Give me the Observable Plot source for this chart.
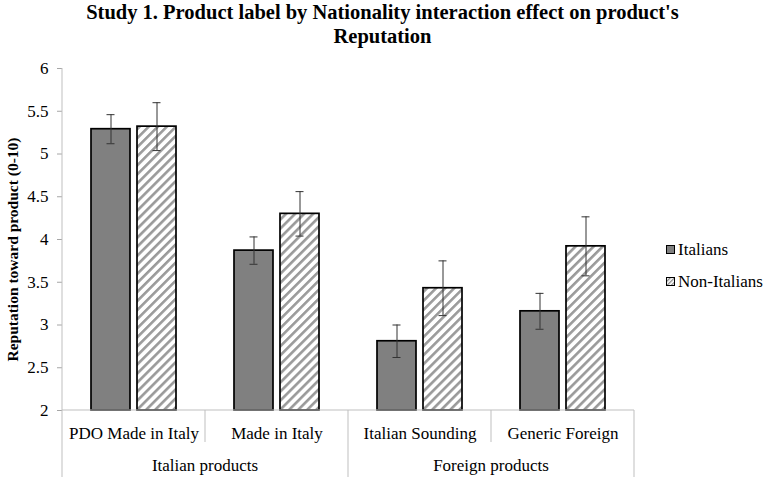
<!DOCTYPE html>
<html><head><meta charset="utf-8">
<script src="https://cdn.jsdelivr.net/npm/d3@7"></script>
<script src="https://cdn.jsdelivr.net/npm/@observablehq/plot@0.6"></script>
<style>
body{margin:0;background:#fff;}
#wrap{position:relative;width:765px;height:477px;font-family:"Liberation Serif","Times New Roman",serif;overflow:hidden;}
#chart{position:absolute;left:0;top:0;}
#title{position:absolute;top:0px;left:0;width:765px;text-align:center;font-weight:bold;font-size:20.5px;line-height:24px;color:#000;}
.leg{position:absolute;left:666px;font-size:17px;line-height:20px;white-space:nowrap;color:#000;}
.leg svg{vertical-align:middle;margin-right:3px;position:relative;top:-2px;}
#chart g[aria-label="y-axis tick"] path{stroke:#a6a6a6;}
#chart g[aria-label="y-axis label"] text{font-weight:bold;font-size:15.5px;}
</style></head>
<body>
<svg width="0" height="0" style="position:absolute"><defs>
<pattern id="hatch" patternUnits="userSpaceOnUse" width="6.4" height="6.4" patternTransform="rotate(45)">
<rect x="0" y="0" width="6.4" height="6.4" fill="#fff"></rect>
<rect x="0" y="0" width="2.6" height="6.4" fill="#9a9a9a"></rect>
</pattern>
<pattern id="hatchS" patternUnits="userSpaceOnUse" width="3" height="3" patternTransform="rotate(45)">
<rect x="0" y="0" width="3" height="3" fill="#fff"></rect>
<rect x="0" y="0" width="1.3" height="3" fill="#888"></rect>
</pattern>
</defs></svg>
<div id="wrap">
<div id="chart"></div>
<div id="title">Study 1. Product label by Nationality interaction effect on product's<br>Reputation</div>
<div class="leg" style="top:240px"><svg width="9" height="9"><rect x="0.5" y="0.5" width="8" height="8" fill="#808080" stroke="#000"></rect></svg>Italians</div>
<div class="leg" style="top:272px"><svg width="9" height="9"><rect x="0.5" y="0.5" width="8" height="8" fill="url(#hatchS)" stroke="#000"></rect></svg>Non-Italians</div>
</div>
<script>
const categories = ["PDO Made in Italy", "Made in Italy", "Italian Sounding", "Generic Foreign"];
const groupOf = ["Italian products", "Italian products", "Foreign products", "Foreign products"];
const nationalities = ["Italians", "Non-Italians"];
const italiansMean = [5.29, 3.87, 2.81, 3.16];
const italiansErr = [0.17, 0.16, 0.19, 0.21];
const nonItaliansMean = [5.32, 4.30, 3.43, 3.92];
const nonItaliansErr = [0.28, 0.26, 0.32, 0.345];
const yTicks = [2, 2.5, 3, 3.5, 4, 4.5, 5, 5.5, 6];

const rows = [];
categories.forEach((c, i) => {
  rows.push({category: c, nationality: "Italians", mean: italiansMean[i], lo: italiansMean[i] - italiansErr[i], hi: italiansMean[i] + italiansErr[i]});
  rows.push({category: c, nationality: "Non-Italians", mean: nonItaliansMean[i], lo: nonItaliansMean[i] - nonItaliansErr[i], hi: nonItaliansMean[i] + nonItaliansErr[i]});
});

const plot = Plot.plot({
  width: 765, height: 477,
  marginTop: 68, marginBottom: 67, marginLeft: 60, marginRight: 130,
  style: {fontFamily: "Liberation Serif, Times New Roman, serif", fontSize: "17px", color: "#000", background: "transparent", overflow: "visible"},
  fx: {domain: categories, padding: 0, axis: "bottom", tickSize: 0, tickPadding: 16, label: null},
  x: {domain: nationalities, axis: null, paddingInner: 0.149, paddingOuter: 0.604},
  y: {domain: [2, 6], ticks: yTicks, tickSize: 5, tickPadding: 9, tickFormat: d => String(d),
      label: "Reputation toward product (0-10)", labelAnchor: "center", labelOffset: 56, labelArrow: "none"},
  color: {domain: nationalities, range: ["#808080", "url(#hatch)"]},
  marks: [
    Plot.barY(rows, {fx: "category", x: "nationality", y1: 2, y2: "mean", fill: "nationality", stroke: "#000", strokeWidth: 1.7}),
    Plot.ruleX(rows, {fx: "category", x: "nationality", y1: "lo", y2: "hi", stroke: "#333", strokeWidth: 1}),
    Plot.tickY(rows, {fx: "category", x: "nationality", y: "hi", insetLeft: 15.5, insetRight: 15.5, stroke: "#333", strokeWidth: 1}),
    Plot.tickY(rows, {fx: "category", x: "nationality", y: "lo", insetLeft: 15.5, insetRight: 15.5, stroke: "#333", strokeWidth: 1})
  ]
});
document.getElementById("chart").appendChild(plot);

// nudge the y-axis title slightly down to sit like the reference
const yl = d3.select(plot).select('g[aria-label="y-axis label"]');
if (!yl.empty()) yl.attr("transform", "translate(0,10) " + (yl.attr("transform") || ""));

// category/group decoration below the axis, positioned from Plot's own scales
const fx = plot.scale("fx"), y = plot.scale("y");
const bw = fx.bandwidth;
const yTop = y.apply(6), yBase = y.apply(2);
const svg = d3.select(plot);
const g = svg.append("g").attr("stroke", "#bfbfbf").attr("stroke-width", 1);
const left0 = fx.apply(categories[0]);
const right0 = fx.apply(categories[categories.length - 1]) + bw;
g.append("line").attr("x1", left0).attr("x2", left0).attr("y1", yTop).attr("y2", 477);
g.append("line").attr("x1", left0).attr("x2", right0).attr("y1", yBase).attr("y2", yBase);
categories.forEach((c, i) => {
  if (i === categories.length - 1) return;
  const xe = fx.apply(c) + bw;
  const sameGroup = groupOf[i] === groupOf[i + 1];
  g.append("line").attr("x1", xe).attr("x2", xe).attr("y1", yBase).attr("y2", sameGroup ? yBase + 32 : 477);
});
g.append("line").attr("x1", right0).attr("x2", right0).attr("y1", yBase).attr("y2", 477);
const groupNames = [...new Set(groupOf)];
groupNames.forEach(name => {
  const idx = groupOf.map((gname, i) => gname === name ? i : -1).filter(i => i >= 0);
  const a = fx.apply(categories[idx[0]]), b = fx.apply(categories[idx[idx.length - 1]]) + bw;
  svg.append("text").attr("x", (a + b) / 2).attr("y", yBase + 61).attr("text-anchor", "middle")
    .attr("fill", "#000").attr("font-size", 17).text(name);
});
</script>
</body></html>
